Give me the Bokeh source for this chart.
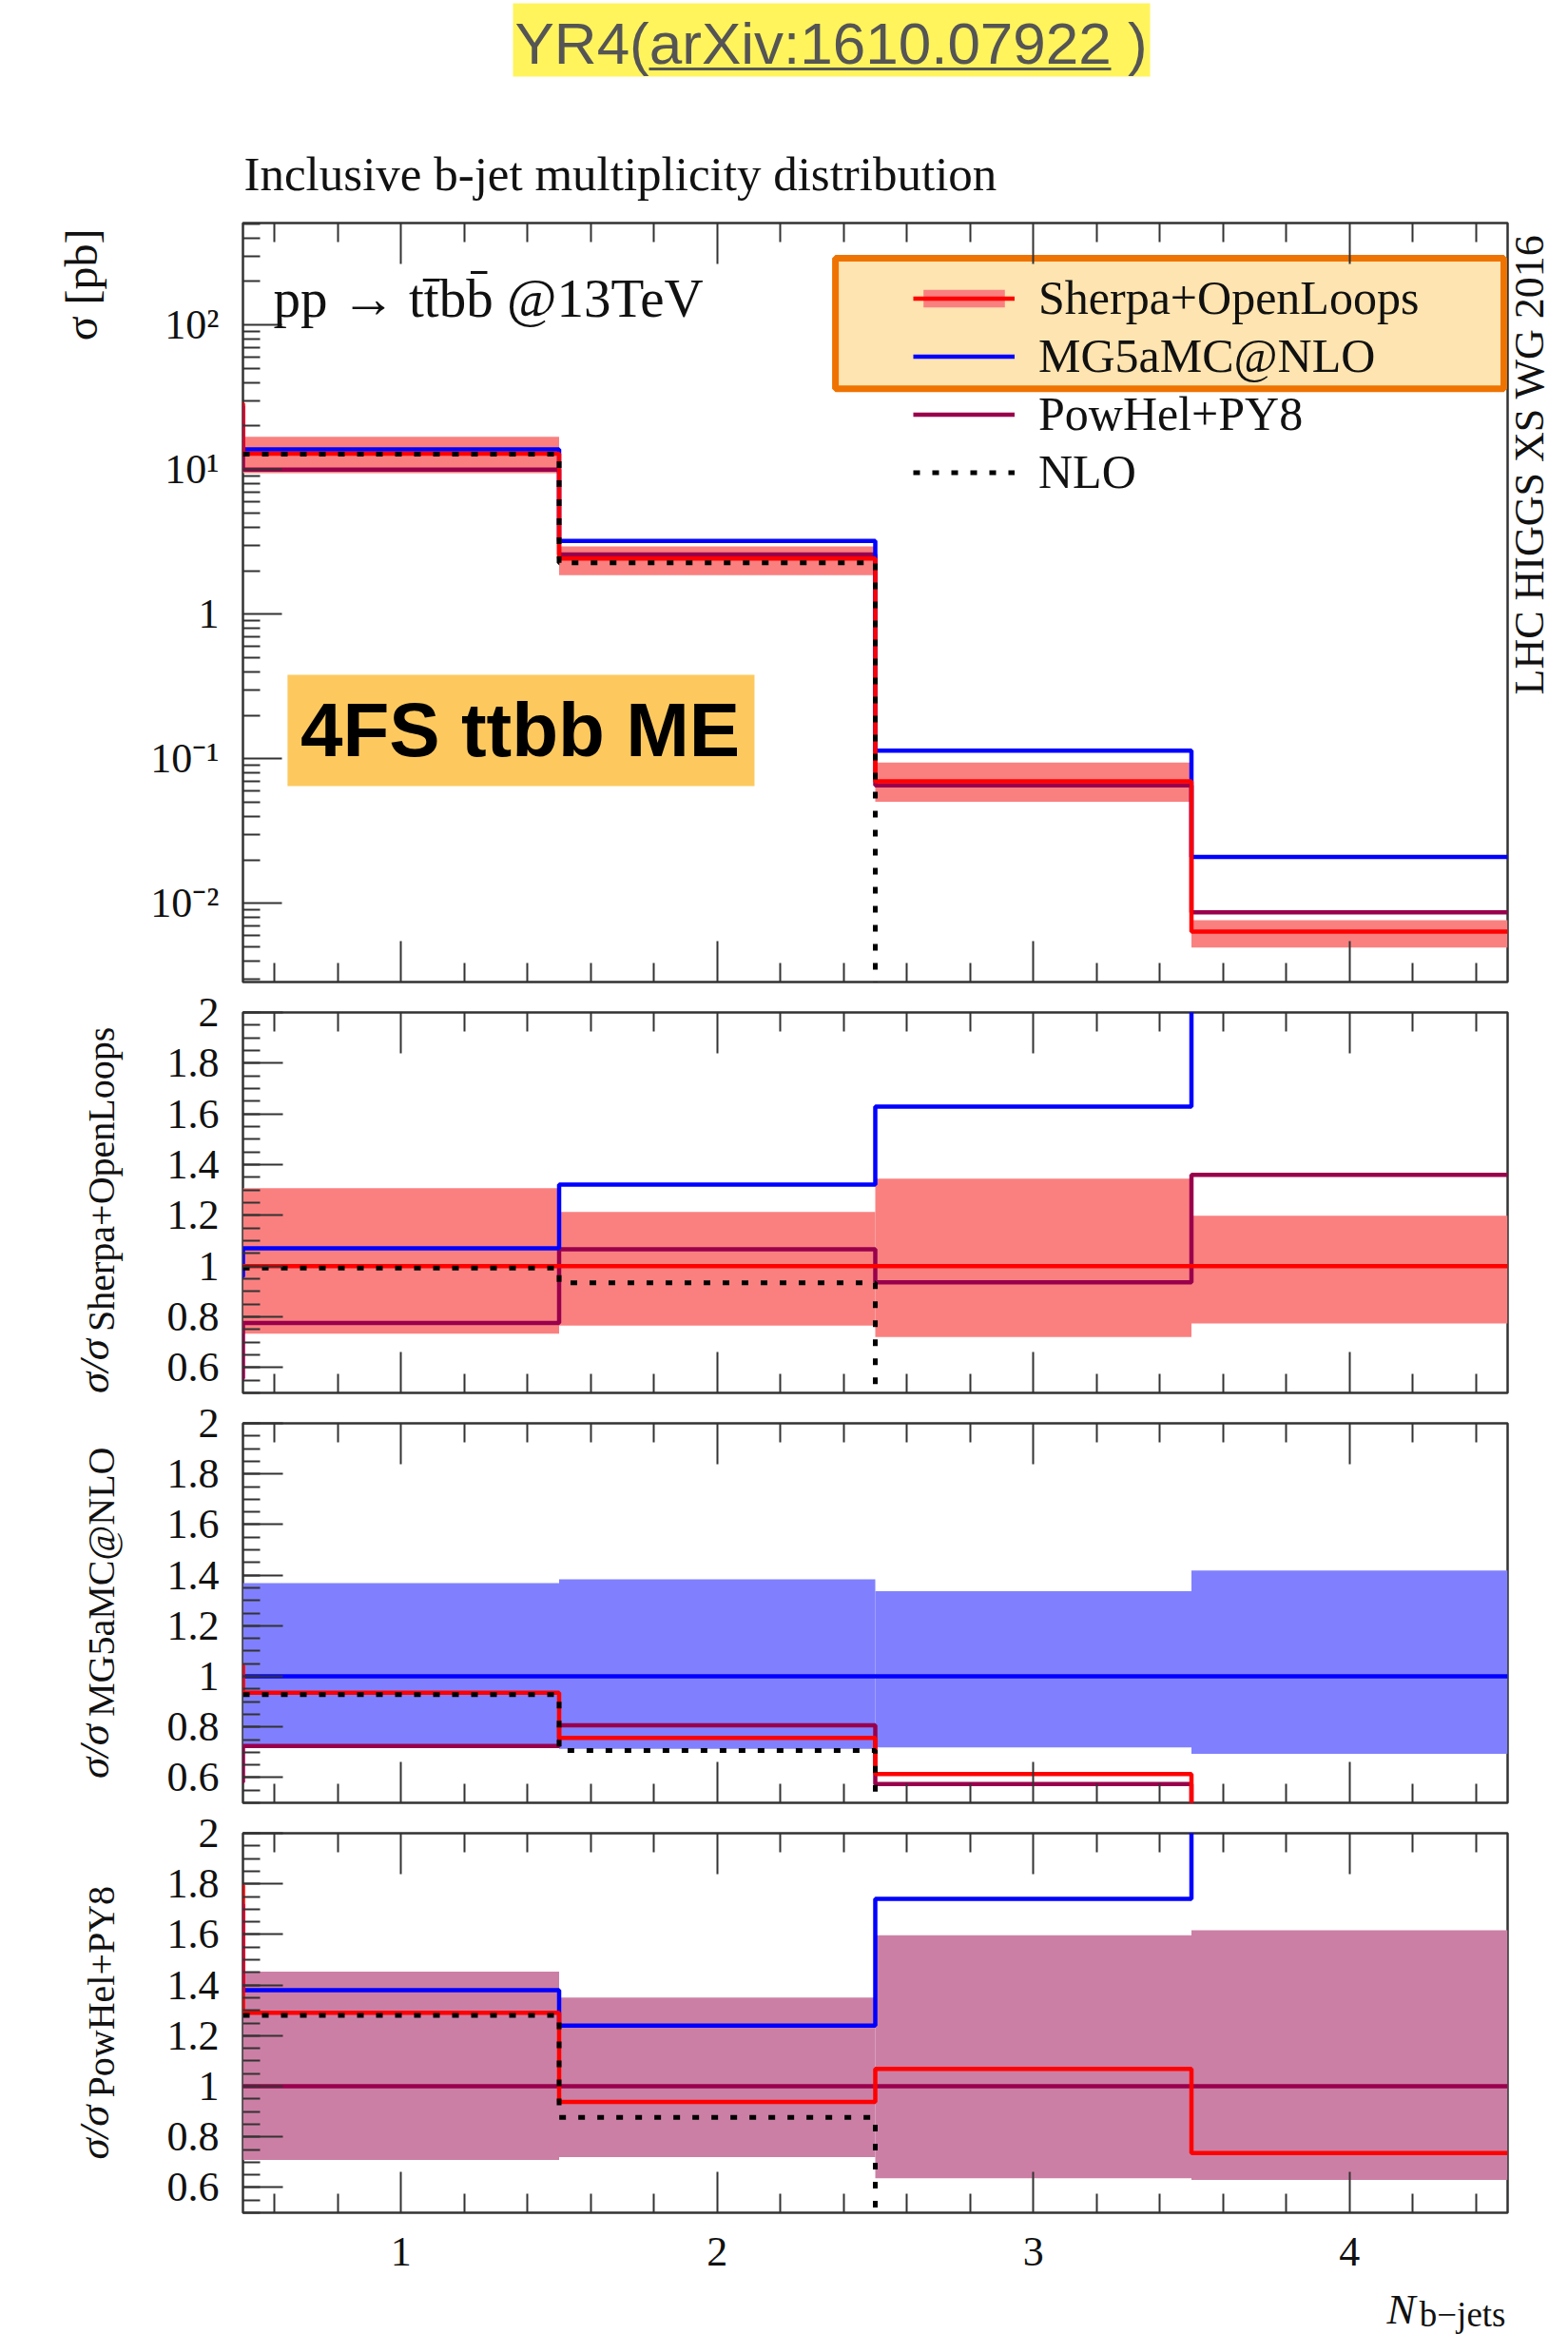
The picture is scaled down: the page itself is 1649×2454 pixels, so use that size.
import math
from bokeh.plotting import figure
from bokeh.layouts import column
from bokeh.models import (Range1d, FixedTicker, LinearAxis, Label, Legend,
                          LegendItem, BoxAnnotation)
from bokeh.core.properties import value
from bokeh.embed import file_html
from bokeh.resources import INLINE

NAN = float("nan")

# ---------------- data ----------------
n_bjets = [0, 1, 2, 3, 4]
sherpa = [28.7, 12.9, 2.43, 0.070, 0.0064]
mg5 = [27.5, 13.8, 3.21, 0.114, 0.0210]
powhel = [16.0, 10.0, 2.59, 0.0655, 0.0087]
nlo = [NAN, 12.8, 2.27, 0.0, 0.0]

band_bins = [1, 2, 3, 4]
sherpa_rel_lo = [0.733, 0.765, 0.720, 0.774]
sherpa_rel_hi = [1.307, 1.213, 1.345, 1.198]
mg5_rel_lo = [0.722, 0.713, 0.719, 0.694]
mg5_rel_hi = [1.368, 1.383, 1.336, 1.418]
powhel_rel_lo = [0.709, 0.720, 0.636, 0.630]
powhel_rel_hi = [1.453, 1.351, 1.597, 1.617]

x_ticks = [1, 2, 3, 4]
x_tick_labels = ["1", "2", "3", "4"]
log_ticks = [0.01, 0.1, 1, 10, 100]
log_tick_labels = ["10\u207b\u00b2", "10\u207b\u00b9", "1", "10\u00b9", "10\u00b2"]
ratio_ticks = [0.6, 0.8, 1, 1.2, 1.4, 1.6, 1.8, 2]
ratio_tick_labels = ["0.6", "0.8", "1", "1.2", "1.4", "1.6", "1.8", "2"]

series_names = ["Sherpa+OpenLoops", "MG5aMC@NLO", "PowHel+PY8", "NLO"]

# ---------------- style ----------------
W = 1649
LB, RB = 255, 64
SERIF = "Liberation Serif"
SANS = "Liberation Sans"
TICK = "#333333"
TXT = "#111111"
C_SHERPA, C_SHERPA_BAND = "#ff0000", "#fa8080"
C_MG5, C_MG5_BAND = "#0000ff", "#8080ff"
C_POW, C_POW_BAND = "#99004c", "#cc7fa5"
LW = 4.5

x_minor = [round(0.4 + 0.2 * i, 1) for i in range(1, 21)]
x_minor = [v for v in x_minor if abs(v - round(v)) > 1e-6]
log_minor = [k * 10.0 ** e for e in range(-3, 3) for k in range(2, 10)]
ratio_minor = [round(0.5 + 0.05 * i, 2) for i in range(31)]


def overrides(ticks, labels):
    d = {}
    for t, l in zip(ticks, labels):
        d[t] = l
        d[str(t)] = l
    return d


def style_axis(ax, ticker, labels=None, standoff=25, major_len=42, minor_len=19):
    ax.ticker = ticker
    ax.axis_line_color = None
    ax.major_tick_in = major_len
    ax.major_tick_out = 0
    ax.minor_tick_in = minor_len
    ax.minor_tick_out = 0
    ax.major_tick_line_color = TICK
    ax.major_tick_line_width = 2
    ax.minor_tick_line_color = TICK
    ax.minor_tick_line_width = 2
    if labels is None:
        ax.major_label_text_font_size = "1px"
        ax.major_label_text_color = None
        ax.major_label_standoff = 0
    else:
        ax.major_label_overrides = labels
        ax.major_label_text_font = SERIF
        ax.major_label_text_font_size = "44px"
        ax.major_label_text_color = TXT
        ax.major_label_standoff = standoff


def make_fig(height, top, bottom, y_range, log=False, xlabels=False):
    p = figure(width=W, height=height, x_range=Range1d(0.5, 4.5), y_range=y_range,
               y_axis_type="log" if log else "linear",
               output_backend="svg", toolbar_location=None,
               min_border_left=LB, min_border_right=RB,
               min_border_top=top, min_border_bottom=bottom)
    p.grid.visible = False
    p.outline_line_color = TICK
    p.outline_line_width = 2.5
    p.background_fill_color = "white"
    p.border_fill_color = "white"
    xt = FixedTicker(ticks=x_ticks, minor_ticks=x_minor)
    style_axis(p.xaxis[0], xt, overrides(x_ticks, x_tick_labels) if xlabels else None,
               standoff=26, major_len=43, minor_len=20)
    top_ax = LinearAxis()
    style_axis(top_ax, FixedTicker(ticks=x_ticks, minor_ticks=x_minor), None,
               major_len=43, minor_len=20)
    p.add_layout(top_ax, "above")
    if log:
        style_axis(p.yaxis[0], FixedTicker(ticks=log_ticks, minor_ticks=log_minor),
                   overrides(log_ticks, log_tick_labels), standoff=25, major_len=41, minor_len=18)
    else:
        style_axis(p.yaxis[0], FixedTicker(ticks=ratio_ticks, minor_ticks=ratio_minor),
                   overrides(ratio_ticks, ratio_tick_labels), standoff=25, major_len=42, minor_len=18)
    return p


def step_xy(vals, floor):
    xs, ys = [], []
    for n, v in zip(n_bjets, vals):
        if v != v:
            continue
        v = max(v, floor)
        xs += [n - 0.5, n + 0.5]
        ys += [v, v]
    return xs, ys


def ratio(series, ref):
    return [a / b if a == a else NAN for a, b in zip(series, ref)]


def draw_lines(p, vals_list, floor):
    colors = [C_SHERPA, C_MG5, C_POW, "black"]
    out = [None] * 4
    for idx in [2, 1, 0, 3]:  # powhel, mg5, sherpa, nlo (on top)
        xs, ys = step_xy(vals_list[idx], floor)
        if idx == 3:
            r = p.line(xs, ys, line_color="black", line_width=5, line_dash="7 13")
        else:
            r = p.line(xs, ys, line_color=colors[idx], line_width=LW)
        out[idx] = r
    return out


def draw_band(p, center, lo, hi, color, absolute):
    c = [center[n_bjets.index(b)] for b in band_bins]
    if absolute:
        bottoms = [ci * l for ci, l in zip(c, lo)]
        tops = [ci * h for ci, h in zip(c, hi)]
    else:
        bottoms, tops = lo, hi
    return p.quad(left=[b - 0.5 for b in band_bins], right=[b + 0.5 for b in band_bins],
                  bottom=bottoms, top=tops, fill_color=color, fill_alpha=1.0, line_color=None)


def pixel_fig(height):
    f = figure(width=W, height=height, x_range=Range1d(LB, W - RB), y_range=Range1d(height, 0),
               x_axis_type=None, y_axis_type=None, output_backend="svg",
               toolbar_location=None, min_border_left=LB, min_border_right=RB,
               min_border_top=0, min_border_bottom=0)
    f.outline_line_color = None
    f.background_fill_color = "white"
    f.border_fill_color = "white"
    return f


# ---------------- header ----------------
HH = 224
hdr = pixel_fig(HH)
hdr.quad(left=[539], right=[1209], top=[3], bottom=[80], fill_color="#fff45c", line_color=None)
hdr.text(x=[541], y=[45], text=["YR4(arXiv:1610.07922 )"], text_font=value(SANS),
         text_font_size="62px", text_color="#555555", text_baseline="middle")
hdr.segment(x0=[682], y0=[72], x1=[1168], y1=[72], line_color="#555555", line_width=3)
hdr.text(x=[256], y=[182], text=["Inclusive b-jet multiplicity distribution"],
         text_font=value(SERIF), text_font_size="51px", text_color=TXT,
         text_baseline="middle")

# ---------------- main panel ----------------
main = make_fig(812, 10, 4, Range1d(10 ** -2.543, 10 ** 2.705), log=True)
hl = BoxAnnotation(left=2.374, right=4.488, bottom=10 ** 1.559, top=10 ** 2.462,
                   fill_color="#fde4b0", fill_alpha=1.0, line_color="#ef7300",
                   line_alpha=1.0, line_width=7, level="underlay")
main.add_layout(hl)
band_main = draw_band(main, sherpa, sherpa_rel_lo, sherpa_rel_hi, C_SHERPA_BAND, True)
lines_main = draw_lines(main, [sherpa, mg5, powhel, nlo], 1e-5)

legend = Legend(items=[
    LegendItem(label=series_names[0], renderers=[band_main, lines_main[0]]),
    LegendItem(label=series_names[1], renderers=[lines_main[1]]),
    LegendItem(label=series_names[2], renderers=[lines_main[2]]),
    LegendItem(label=series_names[3], renderers=[lines_main[3]]),
], location=(705, 507))
legend.label_text_font = SERIF
legend.label_text_font_size = "50px"
legend.label_text_color = TXT
legend.glyph_width = 107
legend.glyph_height = 23
legend.label_standoff = 25
legend.spacing = 3
legend.padding = 0
legend.margin = 0
legend.border_line_color = None
legend.background_fill_alpha = 0
main.add_layout(legend)

fs_box = BoxAnnotation(left=0.641, right=2.118, bottom=10 ** -1.189, top=10 ** -0.418,
                       fill_color="#fdc95f", fill_alpha=1.0, line_color=None)
main.add_layout(fs_box)
main.add_layout(Label(x=1.377, y=10 ** -0.801, text="4FS ttbb ME", text_font=SANS,
                      text_font_style="bold", text_font_size="80px", text_color="black",
                      text_align="center", text_baseline="middle"))
main.add_layout(Label(x=32, y=719, x_units="screen", y_units="screen",
                      text="pp \u2192 tt\u0304bb\u0304 @13TeV", text_font=SERIF,
                      text_font_size="57px", text_color=TXT, text_baseline="middle"))
# side-panel labels (not clipped by the frame)
main.add_layout(Label(x=-17, y=792, x_units="screen", y_units="screen", angle=math.pi / 2,
                      text="\u03c3 [pb]", text_font=SERIF, text_font_size="48px",
                      text_color=TXT, text_align="right", text_baseline="middle"), "left")
main.add_layout(Label(x=23, y=302, x_units="screen", y_units="screen", angle=math.pi / 2,
                      text="LHC HIGGS XS WG 2016", text_font=SERIF, text_font_size="44px",
                      text_color=TXT, text_align="left", text_baseline="middle"), "right")


# ---------------- ratio panels ----------------
def ratio_fig(height, top, bottom, frame_h, ref, band_lo, band_hi, band_color, sub, sub_len,
              xlabels=False):
    p = make_fig(height, top, bottom, Range1d(0.5, 2.0), xlabels=xlabels)
    draw_band(p, ref, band_lo, band_hi, band_color, False)
    draw_lines(p, [ratio(s, ref) for s in (sherpa, mg5, powhel, nlo)], 0.3)
    main_len = 62
    total = main_len + 3 + sub_len
    start = frame_h / 2 - total / 2
    p.add_layout(Label(x=-21, y=start + main_len + 3, x_units="screen", y_units="screen",
                       angle=math.pi / 2, text=sub, text_font=SERIF, text_font_size="40px",
                       text_color=TXT, text_align="left", text_baseline="middle"), "left")
    p.add_layout(Label(x=21, y=start, x_units="screen", y_units="screen", angle=math.pi / 2,
                       text="\u03c3/\u03c3", text_font=SERIF, text_font_style="italic",
                       text_font_size="45px", text_color=TXT, text_align="left",
                       text_baseline="middle"), "left")
    return p


r1 = ratio_fig(432, 28, 4, 400, sherpa, sherpa_rel_lo, sherpa_rel_hi, C_SHERPA_BAND,
               "Sherpa+OpenLoops", 336)
r2 = ratio_fig(431, 28, 4, 399, mg5, mg5_rel_lo, mg5_rel_hi, C_MG5_BAND,
               "MG5aMC@NLO", 283)
r3 = ratio_fig(503, 28, 76, 399, powhel, powhel_rel_lo, powhel_rel_hi, C_POW_BAND,
               "PowHel+PY8", 222, xlabels=True)

# ---------------- footer (axis title) ----------------
FH = 2454 - (224 + 812 + 432 + 431 + 503)
ftr = pixel_fig(FH)
ftr.text(x=[1488], y=[25], text=["N"], text_font=value(SERIF), text_font_style="italic",
         text_font_size="45px", text_color=TXT, text_align="right", text_baseline="middle")
ftr.text(x=[1583], y=[31], text=["b\u2212jets"], text_font=value(SERIF),
         text_font_size="37px", text_color=TXT, text_align="right", text_baseline="middle")

layout = column(hdr, main, r1, r2, r3, ftr, spacing=0)
open("out.html", "w").write(file_html(layout, INLINE))
